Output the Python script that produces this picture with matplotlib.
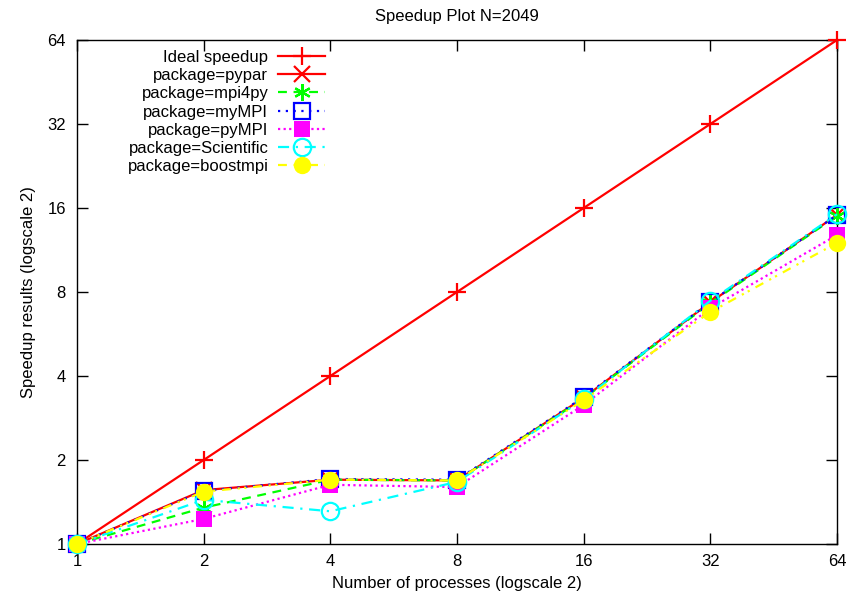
import numpy as np
import matplotlib.pyplot as plt
from matplotlib.ticker import FixedLocator, FixedFormatter, NullLocator

plt.rcParams['font.family'] = ['Liberation Sans', 'DejaVu Sans']
plt.rcParams['font.size'] = 12

# data
procs = [1, 2, 4, 8, 16, 32, 64]
ideal = [1, 2, 4, 8, 16, 32, 64]
pypar = [1, 1.56, 1.70, 1.69, 3.34, 7.35, 15.1]
mpi4py = [1, 1.35, 1.70, 1.69, 3.32, 7.30, 15.0]
mympi = [1, 1.55, 1.71, 1.70, 3.36, 7.37, 15.1]
pympi = [1, 1.23, 1.63, 1.60, 3.15, 7.00, 12.8]
scientific = [1, 1.44, 1.31, 1.67, 3.30, 7.44, 15.2]
boostmpi = [1, 1.54, 1.70, 1.69, 3.28, 6.78, 12.0]
tick_vals = [1, 2, 4, 8, 16, 32, 64]

fig = plt.figure(figsize=(8.5, 5.98), dpi=100)
ax = fig.add_axes([77/850, 1-544/598, 760/850, 504/598])

ax.plot(procs, ideal, color='#ff0000', lw=1.6, marker='+', ms=13, mew=1.6, label='Ideal speedup', clip_on=False)
ax.plot(procs, pypar, color='#ff0000', lw=1.6, marker='x', ms=11, mew=1.6, label='package=pypar', clip_on=False)
ax.plot(procs, mpi4py, color='#00ff00', lw=1.6, ls=(0, (4, 3)), marker=(6, 2, 0), ms=12, mew=1.6,
        label='package=mpi4py', clip_on=False)
ax.plot(procs, mympi, color='#0000ff', lw=1.6, ls=(0, (1, 2.5)), marker='s', ms=12, mew=1.6,
        mfc='none', label='package=myMPI', clip_on=False)
ax.plot(procs, pympi, color='#ff00ff', lw=1.6, ls=(0, (1, 1.5)), marker='s', ms=12, mew=0,
        label='package=pyMPI', clip_on=False)
ax.plot(procs, scientific, color='#00ffff', lw=1.6, ls=(0, (5, 3, 1, 3)), marker='o', ms=12.5, mew=1.6,
        mfc='none', label='package=Scientific', clip_on=False)
ax.plot(procs, boostmpi, color='#ffff00', lw=1.6, ls=(0, (4, 3, 1, 2, 1, 3)), marker='o', ms=12.5, mew=0,
        label='package=boostmpi', clip_on=False)

ax.set_xscale('log', base=2)
ax.set_yscale('log', base=2)
ax.set_xlim(1, 64)
ax.set_ylim(1, 64)
for a in (ax.xaxis, ax.yaxis):
    a.set_major_locator(FixedLocator(tick_vals))
    a.set_major_formatter(FixedFormatter([str(v) for v in tick_vals]))
    a.set_minor_locator(NullLocator())
ax.tick_params(direction='in', length=8, width=1, top=True, right=True, labelsize=12)
ax.tick_params(axis='x', pad=7)
ax.tick_params(axis='y', pad=8)
for s in ax.spines.values():
    s.set_linewidth(1)
    s.set_zorder(0.5)

ax.set_title('Speedup Plot N=2049', fontsize=12, pad=14)
ax.set_xlabel('Number of processes (logscale 2)', fontsize=12, labelpad=5)
ax.set_ylabel('Speedup results (logscale 2)', fontsize=12, labelpad=8)

ax.legend(loc='upper right', bbox_to_anchor=((325-77)/760, (544-50)/504), frameon=False,
          markerfirst=False, borderpad=0, borderaxespad=0, labelspacing=0.19,
          handlelength=2.8, handletextpad=0.6, fontsize=12)

fig.savefig('out.png', dpi=100)
